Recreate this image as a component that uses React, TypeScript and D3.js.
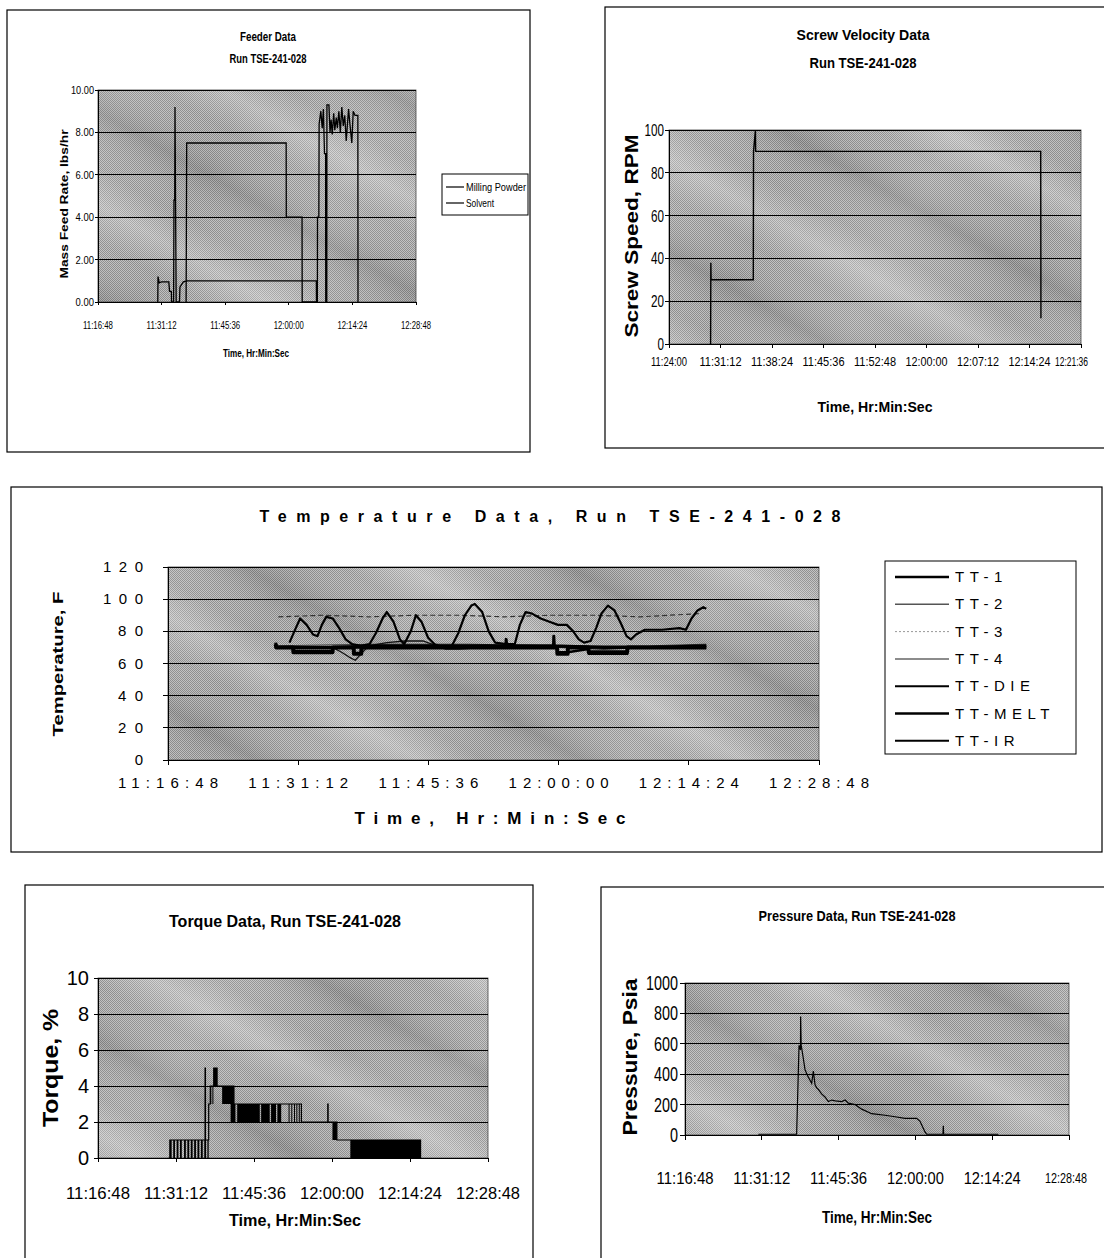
import React from "react";
import * as d3 from "d3";

const FONT = "Arial, 'Liberation Sans', Helvetica, sans-serif";
const sec = (s: string) => {
  const [h, m, x] = s.split(":").map(Number);
  return h * 3600 + m * 60 + x;
};
type Pt = [number, number];
const pts = (ts: string[], vs: number[]): Pt[] => ts.map((t, i) => [sec(t), vs[i]]);

// ---------------- Feeder data ----------------
const feederTickTimes = ["11:16:48", "11:31:12", "11:45:36", "12:00:00", "12:14:24", "12:28:48"];
const feederRateTicks = [0, 2, 4, 6, 8, 10];
const feederRateLabels = ["0.00", "2.00", "4.00", "6.00", "8.00", "10.00"];
const feederSeriesNames = ["Milling Powder", "Solvent"];
const millingTimes = ["11:36:45", "11:36:53", "11:59:24", "11:59:26", "12:03:00", "12:03:02", "12:06:28", "12:06:30", "12:06:48", "12:06:52", "12:07:15", "12:07:34", "12:07:50", "12:08:05", "12:08:20", "12:08:22", "12:08:36", "12:08:38", "12:09:05", "12:09:20", "12:09:35", "12:09:50", "12:10:10", "12:10:25", "12:10:45", "12:11:00", "12:11:20", "12:11:40", "12:12:00", "12:12:20", "12:12:40", "12:13:00", "12:13:32", "12:13:50", "12:14:16", "12:14:35", "12:15:00", "12:15:38", "12:15:40"];
const millingRates = [0, 7.5, 7.5, 4.0, 4.0, 0, 0, 4.0, 4.0, 8.4, 9.0, 8.2, 9.1, 7.0, 7.0, 0, 0, 9.3, 9.3, 8.0, 8.6, 7.9, 8.9, 8.1, 8.7, 8.2, 9.0, 8.0, 9.2, 8.3, 8.8, 7.6, 9.1, 8.4, 7.5, 9.0, 8.8, 8.8, 0];
const solventTimes = ["11:30:20", "11:30:23", "11:30:40", "11:31:10", "11:32:50", "11:33:00", "11:33:25", "11:33:27", "11:33:55", "11:34:00", "11:34:10", "11:34:14", "11:34:30", "11:35:15", "11:35:21", "11:36:07", "11:37:00", "12:06:14", "12:06:16"];
const solventRates = [0, 1.2, 0.9, 0.95, 0.95, 0.5, 0.5, 0, 0, 4.8, 4.8, 9.2, 0, 0, 0.7, 0.95, 1.0, 1.0, 0];

// ---------------- Screw velocity data ----------------
const screwTickTimes = ["11:24:00", "11:31:12", "11:38:24", "11:45:36", "11:52:48", "12:00:00", "12:07:12", "12:14:24", "12:21:36"];
const screwRpmTicks = [0, 20, 40, 60, 80, 100];
const screwTimes = ["11:29:49", "11:29:51", "11:29:53", "11:35:47", "11:35:49", "11:36:05", "11:36:07", "12:15:58", "12:16:00"];
const screwRpm = [0, 38, 30, 30, 90, 100, 90, 90, 12];

// ---------------- Temperature data ----------------
const tempTickTimes = ["11:16:48", "11:31:12", "11:45:36", "12:00:00", "12:14:24", "12:28:48"];
const tempTicks = [0, 20, 40, 60, 80, 100, 120];
const tempSeriesNames = ["TT-1", "TT-2", "TT-3", "TT-4", "TT-DIE", "TT-MELT", "TT-IR"];
const tt1Times = ["11:28:43", "11:28:46", "11:30:40", "11:35:00", "11:40:00", "11:45:00", "11:50:00", "11:54:10", "11:54:12", "11:54:16", "11:59:26", "11:59:28", "11:59:32", "12:05:00", "12:10:00", "12:16:20"];
const tt1Temps = [73, 70, 70, 70, 71, 71, 71, 71, 75, 71, 71, 77, 71, 70, 70, 71];
const tt2Times = ["11:28:43", "11:33:00", "11:35:00", "11:36:00", "11:36:50", "11:37:30", "11:38:10", "11:39:00", "11:41:00", "11:43:00", "11:45:00", "11:46:30", "11:47:30", "11:49:00", "11:52:00", "11:55:00", "12:00:00", "12:05:00", "12:10:00", "12:16:20"];
const tt2Temps = [70, 70, 70, 67, 64, 62, 66, 71, 73, 74, 74, 71, 69, 69, 70, 71, 70, 69, 70, 71];
const tt3Times = ["11:29:00", "11:34:00", "11:39:00", "11:44:00", "11:49:00", "11:54:00", "11:59:00", "12:04:00", "12:09:00", "12:15:30"];
const tt3Temps = [89, 90, 89, 90, 90, 89, 90, 90, 89, 91];
const tt4Times = ["11:28:43", "11:40:00", "11:50:00", "12:00:00", "12:10:00", "12:16:20"];
const tt4Temps = [71, 72, 72, 71, 71, 72];
const ttDieTimes = ["11:28:43", "11:30:38", "11:30:40", "11:35:00", "11:35:02", "11:45:00", "11:59:50", "11:59:52", "12:01:00", "12:03:18", "12:03:20", "12:07:35", "12:07:37", "12:16:20"];
const ttDieTemps = [70, 70, 68, 68, 70, 70, 70, 67, 67, 69, 66, 66, 70, 70];
const ttMeltTimes = ["11:28:43", "11:28:46", "11:30:38", "11:30:40", "11:35:00", "11:35:02", "11:37:20", "11:37:22", "11:38:10", "11:38:12", "11:59:50", "11:59:52", "12:01:00", "12:01:02", "12:03:18", "12:03:20", "12:07:35", "12:07:37", "12:16:20"];
const ttMeltTemps = [72, 70, 70, 67, 67, 70, 70, 66, 66, 70, 70, 66, 66, 70, 70, 67, 67, 70, 70];
const ttIrTimes = ["11:30:14", "11:30:56", "11:31:25", "11:32:08", "11:32:51", "11:33:20", "11:33:49", "11:34:18", "11:35:01", "11:35:44", "11:36:27", "11:37:10", "11:38:08", "11:39:05", "11:39:48", "11:40:32", "11:41:00", "11:41:44", "11:42:27", "11:42:55", "11:43:39", "11:44:13", "11:44:50", "11:45:34", "11:46:17", "11:47:14", "11:48:12", "11:48:55", "11:49:38", "11:50:21", "11:50:44", "11:51:33", "11:52:16", "11:52:59", "11:54:11", "11:55:09", "11:55:43", "11:56:21", "11:57:04", "11:58:01", "11:58:59", "11:59:56", "12:00:54", "12:01:37", "12:02:14", "12:02:49", "12:03:32", "12:04:09", "12:04:44", "12:05:27", "12:06:11", "12:06:53", "12:07:31", "12:08:00", "12:08:34", "12:09:32", "12:11:27", "12:13:22", "12:14:05", "12:14:42", "12:15:22", "12:16:00", "12:16:20"];
const ttIrTemps = [73, 82, 88, 84, 78, 77, 84, 89, 88, 82, 75, 72, 71, 72, 79, 88, 92, 86, 75, 72, 80, 90, 86, 76, 72, 70, 71, 79, 90, 96, 97, 92, 80, 73, 72, 72, 84, 92, 91, 88, 86, 84, 84, 80, 75, 73, 74, 82, 91, 96, 93, 85, 77, 75, 78, 81, 81, 82, 81, 88, 93, 95, 94];

// ---------------- Torque data ----------------
const torqueTickTimes = ["11:16:48", "11:31:12", "11:45:36", "12:00:00", "12:14:24", "12:28:48"];
const torqueTicks = [0, 2, 4, 6, 8, 10];
const torqueTimes = ["11:29:50", "11:30:04", "11:36:34", "11:36:38", "11:37:14", "11:37:32", "11:38:10", "11:38:47", "11:41:54", "11:54:21", "11:59:13", "11:59:17", "12:00:54", "12:16:21"];
const torqueValues = [0, 1, 5, 1, 3, 4, 5, 4, 3, 2, 3, 2, 1, 0];
const torqueBandStart = ["11:30:04", "11:30:41", "11:31:19", "11:31:56", "11:32:41", "11:33:18", "11:33:56", "11:34:33", "11:35:10", "11:35:48", "11:36:25", "11:37:00", "11:37:32", "11:37:55", "11:38:10", "11:39:43", "11:41:17", "11:42:30", "11:46:55", "11:48:45", "11:49:55", "11:51:59", "11:52:29", "11:52:59", "11:53:25", "11:53:52", "12:00:05", "12:03:23"];
const torqueBandEnd = ["11:30:24", "11:31:01", "11:31:39", "11:32:16", "11:33:01", "11:33:38", "11:34:16", "11:34:53", "11:35:30", "11:36:08", "11:36:45", "11:37:14", "11:37:42", "11:38:05", "11:38:47", "11:41:54", "11:42:10", "11:46:40", "11:48:30", "11:49:40", "11:50:37", "11:52:07", "11:52:37", "11:53:07", "11:53:33", "11:54:00", "12:00:54", "12:16:21"];
const torqueBandLow = [0, 0, 0, 0, 0, 0, 0, 0, 0, 0, 0, 0, 3, 3, 4, 3, 2, 2, 2, 2, 2, 2, 2, 2, 2, 2, 1, 0];
const torqueBandHigh = [1, 1, 1, 1, 1, 1, 1, 1, 1, 1, 1, 1, 4, 4, 5, 4, 3, 3, 3, 3, 3, 3, 3, 3, 3, 3, 2, 1];

// ---------------- Pressure data ----------------
const pressureTickTimes = ["11:16:48", "11:31:12", "11:45:36", "12:00:00", "12:14:24", "12:28:48"];
const pressureTicks = [0, 200, 400, 600, 800, 1000];
const pressureTimes = ["11:30:33", "11:37:44", "11:38:11", "11:38:27", "11:38:29", "11:38:35", "11:38:41", "11:39:00", "11:39:18", "11:39:40", "11:39:56", "11:40:15", "11:40:33", "11:40:52", "11:41:11", "11:41:30", "11:41:48", "11:42:25", "11:43:03", "11:43:41", "11:44:18", "11:45:00", "11:46:11", "11:46:50", "11:47:26", "11:48:41", "11:49:56", "11:51:48", "11:54:18", "11:56:11", "11:58:03", "12:00:14", "12:00:52", "12:01:48", "12:02:07", "12:05:10", "12:05:14", "12:05:18", "12:15:33"];
const pressureValues = [5, 5, 590, 560, 780, 590, 570, 500, 430, 400, 380, 360, 340, 420, 330, 310, 300, 270, 250, 220, 230, 225, 220, 230, 210, 200, 170, 140, 130, 120, 110, 110, 90, 20, 5, 5, 60, 5, 5];

// ---------------- helpers ----------------
function PlotBg({ x, y, w, h }: any) {
  return (
    <g>
      <rect x={x} y={y} width={w} height={h} fill="url(#dither)" />
      <rect x={x} y={y} width={w} height={h} fill="url(#streak)" />
      <rect x={x} y={y} width={w} height={h} fill="url(#streak2)" />
      <rect x={x} y={y} width={w} height={h} fill="none" stroke="#444" strokeWidth={0.8} />
    </g>
  );
}

function Frame({ xs, ys, xTicks, yTicks, tick = 4 }: any) {
  const [x0, x1] = xs.range();
  const [yb, yt] = ys.range();
  const dmin = ys.domain()[0];
  return (
    <g stroke="#000" strokeWidth={1} shapeRendering="crispEdges">
      {yTicks.filter((v: number) => v !== dmin).map((v: number, i: number) => (
        <line key={"g" + i} x1={x0} x2={x1} y1={ys(v)} y2={ys(v)} />
      ))}
      <line x1={x0} x2={x1} y1={yb} y2={yb} />
      <line x1={x0} x2={x0} y1={yb} y2={yt} />
      {xTicks.map((t: number, i: number) => (
        <line key={"xt" + i} x1={xs(t)} x2={xs(t)} y1={yb} y2={yb + tick} />
      ))}
      {yTicks.map((v: number, i: number) => (
        <line key={"yt" + i} x1={x0 - tick} x2={x0} y1={ys(v)} y2={ys(v)} />
      ))}
    </g>
  );
}

function Txt({ x, y, text, size, len, anchor = "middle", weight = "normal", adjust = "spacingAndGlyphs", spacing }: any) {
  return (
    <text x={x} y={y} textAnchor={anchor} fontFamily={FONT} fontSize={size} fontWeight={weight}
      textLength={len} lengthAdjust={len ? adjust : undefined} letterSpacing={spacing} fill="#000">
      {text}
    </text>
  );
}

function VTxt({ x, y, text, size, len, weight = "bold" }: any) {
  return (
    <text transform={`translate(${x},${y}) rotate(-90)`} textAnchor="middle" dominantBaseline="central"
      fontFamily={FONT} fontSize={size} fontWeight={weight} textLength={len} lengthAdjust="spacingAndGlyphs" fill="#000">
      {text}
    </text>
  );
}

// ---------------- charts ----------------
function FeederChart() {
  const xs = d3.scaleLinear().domain([sec(feederTickTimes[0]), sec(feederTickTimes[feederTickTimes.length - 1])]).range([98, 416]);
  const ys = d3.scaleLinear().domain([0, 10]).range([302, 90]);
  const line = d3.line<Pt>().x((d) => xs(d[0])).y((d) => ys(d[1]));
  const xt = feederTickTimes.map(sec);
  return (
    <g>
      <rect x={7} y={10} width={523} height={442} fill="#fff" stroke="#000" strokeWidth={1.2} />
      <Txt x={268} y={41} text="Feeder Data" size={12} len={56} weight="bold" />
      <Txt x={268} y={63} text="Run TSE-241-028" size={12} len={77} weight="bold" />
      <PlotBg x={98} y={90} w={318} h={212} />
      <Frame xs={xs} ys={ys} xTicks={xt} yTicks={feederRateTicks} tick={3} />
      <path d={line(pts(solventTimes, solventRates)) || ""} fill="none" stroke="#000" strokeWidth={1.3} />
      <path d={line(pts(millingTimes, millingRates)) || ""} fill="none" stroke="#000" strokeWidth={1.3} />
      {feederRateTicks.map((v, i) => (
        <Txt key={i} x={94} y={ys(v) + 4} text={feederRateLabels[i]} size={11} anchor="end" len={feederRateLabels[i].length * 4.6} />
      ))}
      {feederTickTimes.map((t, i) => (
        <Txt key={i} x={xs(sec(t))} y={329} text={t} size={11} len={30} />
      ))}
      <Txt x={256} y={357} text="Time, Hr:Min:Sec" size={11} len={66} weight="bold" />
      <VTxt x={64} y={204} text="Mass Feed Rate, lbs/hr" size={11} len={149} />
      <rect x={442} y={174} width={86} height={41} fill="#fff" stroke="#000" strokeWidth={1} />
      {feederSeriesNames.map((n, i) => (
        <g key={n}>
          <line x1={446} x2={464} y1={187 + i * 16} y2={187 + i * 16} stroke="#000" strokeWidth={1.2} />
          <Txt x={466} y={191 + i * 16} text={n} size={11} anchor="start" len={i === 0 ? 60 : 28} />
        </g>
      ))}
    </g>
  );
}

function ScrewChart() {
  const xs = d3.scaleLinear().domain([sec(screwTickTimes[0]), sec(screwTickTimes[screwTickTimes.length - 1])]).range([669, 1081]);
  const ys = d3.scaleLinear().domain([0, 100]).range([344, 130]);
  const line = d3.line<Pt>().x((d) => xs(d[0])).y((d) => ys(d[1]));
  const xt = screwTickTimes.map(sec);
  const last = screwTickTimes.length - 1;
  return (
    <g>
      <rect x={605} y={7} width={520} height={441} fill="#fff" stroke="#000" strokeWidth={1.2} />
      <Txt x={863} y={40} text="Screw Velocity Data" size={15} len={133} weight="bold" />
      <Txt x={863} y={68} text="Run TSE-241-028" size={15} len={107} weight="bold" />
      <PlotBg x={669} y={130} w={412} h={214} />
      <Frame xs={xs} ys={ys} xTicks={xt} yTicks={screwRpmTicks} tick={4} />
      <path d={line(pts(screwTimes, screwRpm)) || ""} fill="none" stroke="#000" strokeWidth={1.4} />
      {screwRpmTicks.map((v, i) => (
        <Txt key={i} x={664} y={ys(v) + 6} text={String(v)} size={17} anchor="end" len={String(v).length * 6.5} />
      ))}
      {screwTickTimes.map((t, i) =>
        i === last ? (
          <Txt key={i} x={1088} y={366} text={t} size={12} len={33} anchor="end" />
        ) : (
          <Txt key={i} x={xs(sec(t))} y={366} text={t} size={13} len={i === 0 ? 36 : 42} />
        )
      )}
      <Txt x={875} y={412} text="Time, Hr:Min:Sec" size={15} len={115} weight="bold" />
      <VTxt x={632} y={236} text="Screw Speed, RPM" size={18} len={203} />
    </g>
  );
}

function TemperatureChart() {
  const xs = d3.scaleLinear().domain([sec(tempTickTimes[0]), sec(tempTickTimes[tempTickTimes.length - 1])]).range([168, 819]);
  const ys = d3.scaleLinear().domain([0, 120]).range([760, 567]);
  const line = d3.line<Pt>().x((d) => xs(d[0])).y((d) => ys(d[1]));
  const xt = tempTickTimes.map(sec);
  const series = [
    { t: tt4Times, v: tt4Temps, w: 1, c: "#333", dash: undefined },
    { t: tt2Times, v: tt2Temps, w: 1.3, c: "#111", dash: undefined },
    { t: tt3Times, v: tt3Temps, w: 1.2, c: "#333", dash: "5 3" },
    { t: ttDieTimes, v: ttDieTemps, w: 2.5, c: "#000", dash: undefined },
    { t: ttMeltTimes, v: ttMeltTemps, w: 4, c: "#000", dash: undefined },
    { t: tt1Times, v: tt1Temps, w: 3, c: "#000", dash: undefined },
    { t: ttIrTimes, v: ttIrTemps, w: 2.2, c: "#000", dash: undefined },
  ];
  const legendStyle = [
    { w: 2.5, c: "#000", dash: undefined },
    { w: 1.5, c: "#555", dash: undefined },
    { w: 1, c: "#999", dash: "2 2" },
    { w: 1.5, c: "#666", dash: undefined },
    { w: 2, c: "#000", dash: undefined },
    { w: 2.5, c: "#000", dash: undefined },
    { w: 2, c: "#000", dash: undefined },
  ];
  return (
    <g>
      <rect x={11} y={487} width={1091} height={365} fill="#fff" stroke="#000" strokeWidth={1.2} />
      <Txt x={550} y={522} text="Temperature Data, Run TSE-241-028" size={16} weight="bold" len={581} adjust="spacing" />
      <PlotBg x={168} y={567} w={651} h={193} />
      <Frame xs={xs} ys={ys} xTicks={xt} yTicks={tempTicks} tick={5} />
      {series.map((s, i) => (
        <path key={i} d={line(pts(s.t, s.v)) || ""} fill="none" stroke={s.c} strokeWidth={s.w} strokeDasharray={s.dash} strokeLinejoin="round" />
      ))}
      {tempTicks.map((v, i) => {
        const s = String(v);
        return <Txt key={i} x={143} y={ys(v) + 5} text={s} size={15} anchor="end" len={s.length > 1 ? 10 + (s.length - 1) * 15 : undefined} adjust="spacing" />;
      })}
      {tempTickTimes.map((t, i) => (
        <Txt key={i} x={xs(sec(t))} y={788} text={t} size={15} len={100} adjust="spacing" />
      ))}
      <Txt x={490} y={824} text="Time, Hr:Min:Sec" size={17} weight="bold" len={271} adjust="spacing" />
      <VTxt x={57} y={664} text="Temperature, F" size={15} len={145} />
      <rect x={885} y={561} width={191} height={193} fill="#fff" stroke="#000" strokeWidth={1} />
      {tempSeriesNames.map((n, i) => {
        const y = 577 + i * 27.3;
        const st = legendStyle[i];
        return (
          <g key={n}>
            <line x1={895} x2={949} y1={y} y2={y} stroke={st.c} strokeWidth={st.w} strokeDasharray={st.dash} />
            <Txt x={955} y={y + 5} text={n} size={15} anchor="start" spacing={5.5} />
          </g>
        );
      })}
    </g>
  );
}

function TorqueChart() {
  const xs = d3.scaleLinear().domain([sec(torqueTickTimes[0]), sec(torqueTickTimes[torqueTickTimes.length - 1])]).range([98, 488]);
  const ys = d3.scaleLinear().domain([0, 10]).range([1158, 978]);
  const line = d3.line<Pt>().x((d) => xs(d[0])).y((d) => ys(d[1])).curve(d3.curveStepAfter);
  const xt = torqueTickTimes.map(sec);
  return (
    <g>
      <rect x={25} y={885} width={508} height={400} fill="#fff" stroke="#000" strokeWidth={1.2} />
      <Txt x={285} y={927} text="Torque Data, Run TSE-241-028" size={16} len={232} weight="bold" />
      <PlotBg x={98} y={978} w={390} h={180} />
      <Frame xs={xs} ys={ys} xTicks={xt} yTicks={torqueTicks} tick={4} />
      {torqueBandStart.map((s, i) => (
        <rect key={i} x={xs(sec(s))} y={ys(torqueBandHigh[i])} width={Math.max(1, xs(sec(torqueBandEnd[i])) - xs(sec(s)))}
          height={ys(torqueBandLow[i]) - ys(torqueBandHigh[i])} fill="#000" />
      ))}
      <path d={line(pts(torqueTimes, torqueValues)) || ""} fill="none" stroke="#000" strokeWidth={1.2} />
      {torqueTicks.map((v, i) => (
        <Txt key={i} x={89} y={ys(v) + 7} text={String(v)} size={20} anchor="end" />
      ))}
      {torqueTickTimes.map((t, i) => (
        <Txt key={i} x={xs(sec(t))} y={1199} text={t} size={17} len={64} />
      ))}
      <Txt x={295} y={1226} text="Time, Hr:Min:Sec" size={17} len={132} weight="bold" />
      <VTxt x={50} y={1068} text="Torque, %" size={22} len={118} />
    </g>
  );
}

function PressureChart() {
  const xs = d3.scaleLinear().domain([sec(pressureTickTimes[0]), sec(pressureTickTimes[pressureTickTimes.length - 1])]).range([685, 1069]);
  const ys = d3.scaleLinear().domain([0, 1000]).range([1135, 983]);
  const line = d3.line<Pt>().x((d) => xs(d[0])).y((d) => ys(d[1]));
  const xt = pressureTickTimes.map(sec);
  const last = pressureTickTimes.length - 1;
  return (
    <g>
      <rect x={601} y={887} width={520} height={400} fill="#fff" stroke="#000" strokeWidth={1.2} />
      <Txt x={857} y={921} text="Pressure Data, Run TSE-241-028" size={15} len={197} weight="bold" />
      <PlotBg x={685} y={983} w={384} h={152} />
      <Frame xs={xs} ys={ys} xTicks={xt} yTicks={pressureTicks} tick={5} />
      <path d={line(pts(pressureTimes, pressureValues)) || ""} fill="none" stroke="#000" strokeWidth={1.2} />
      {pressureTicks.map((v, i) => {
        const s = String(v);
        return <Txt key={i} x={678} y={ys(v) + 7} text={s} size={20} anchor="end" len={s.length * 8} />;
      })}
      {pressureTickTimes.map((t, i) =>
        i === last ? (
          <Txt key={i} x={1087} y={1183} text={t} size={14} len={42} anchor="end" />
        ) : (
          <Txt key={i} x={xs(sec(t))} y={1184} text={t} size={17} len={57} />
        )
      )}
      <Txt x={877} y={1223} text="Time, Hr:Min:Sec" size={16} len={110} weight="bold" />
      <VTxt x={630} y={1057} text="Pressure, Psia" size={20} len={157} />
    </g>
  );
}

export default function App() {
  return (
    <svg width={1104} height={1258} viewBox="0 0 1104 1258"
      style={{ position: "absolute", left: 0, top: 0, background: "#fff" }}>
      <defs>
        <pattern id="dither" width="2" height="2" patternUnits="userSpaceOnUse">
          <rect width="2" height="2" fill="#c0c0c0" />
          <rect width="1" height="1" fill="#8a8a8a" />
          <rect x="1" y="1" width="1" height="1" fill="#8a8a8a" />
        </pattern>
        <linearGradient id="streak" gradientUnits="userSpaceOnUse" x1="0" y1="0" x2="80" y2="-140" spreadMethod="repeat">
          <stop offset="0" stopColor="#fff" stopOpacity="0" />
          <stop offset="0.2" stopColor="#fff" stopOpacity="0.25" />
          <stop offset="0.4" stopColor="#fff" stopOpacity="0" />
          <stop offset="0.7" stopColor="#000" stopOpacity="0.12" />
          <stop offset="1" stopColor="#fff" stopOpacity="0" />
        </linearGradient>
        <linearGradient id="streak2" gradientUnits="userSpaceOnUse" x1="0" y1="0" x2="230" y2="120" spreadMethod="repeat">
          <stop offset="0" stopColor="#fff" stopOpacity="0" />
          <stop offset="0.5" stopColor="#fff" stopOpacity="0.12" />
          <stop offset="1" stopColor="#fff" stopOpacity="0" />
        </linearGradient>
      </defs>
      <rect width={1104} height={1258} fill="#fff" />
      <FeederChart />
      <ScrewChart />
      <TemperatureChart />
      <TorqueChart />
      <PressureChart />
    </svg>
  );
}
